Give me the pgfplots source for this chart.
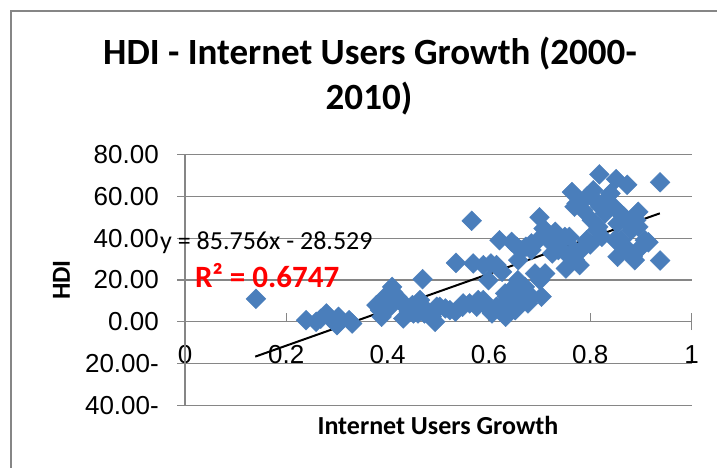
\documentclass[border=0pt]{standalone}
\usepackage{fontspec}
\setmainfont{Carlito}
\newfontfamily\arial{Liberation Sans}
\usepackage{pgfplots}
\pgfplotsset{compat=1.18}
\definecolor{gridgray}{RGB}{134,134,134}
\definecolor{bordergray}{RGB}{134,134,134}
\definecolor{markblue}{RGB}{74,126,187}
\begin{document}
\begin{tikzpicture}[x=1bp,y=1bp]
\useasboundingbox (0,0) rectangle (717,468);
\fill[white] (0,0) rectangle (717,468);
\draw[bordergray, line width=1.3bp] (11,-10) -- (11,457) -- (730,457);
% title
\node[anchor=base, inner sep=0pt, font=\bfseries\fontsize{37bp}{45bp}\selectfont] at (370,403) {HDI - Internet Users Growth (2000-};
\node[anchor=base, inner sep=0pt, font=\bfseries\fontsize{37bp}{45bp}\selectfont] at (369,358) {2010)};
\begin{axis}[
  at={(185bp,62.5bp)}, anchor=south west,
  scale only axis, width=506.5bp, height=251bp,
  xmin=0, xmax=1, ymin=-40, ymax=80,
  axis line style={draw=none},
  xtick={0,0.2,0.4,0.6,0.8,1},
  xticklabels={0,0.2,0.4,0.6,0.8,1},
  ytick={-40,-20,0,20,40,60,80},
  yticklabels={40.00-,20.00-,0.00,20.00,40.00,60.00,80.00},
  major tick length=0pt,
  ymajorgrids, grid style={gridgray, line width=1.3bp},
  tick label style={font=\arial\fontsize{26bp}{26bp}\selectfont, text=black},
  yticklabel style={anchor=east, inner sep=0pt, xshift=-26bp},
  xticklabel style={anchor=center, inner sep=0pt, yshift=50.5bp},
  clip=false,
]
\draw[gridgray, line width=1.3bp] (axis cs:0,-40) -- (axis cs:0,80);
\draw[gridgray, line width=1.3bp] (axis cs:0,0) -- (axis cs:1,0);
\draw[gridgray, line width=1.3bp] ([xshift=-8bp]axis cs:0,-40) -- (axis cs:0,-40);
\draw[gridgray, line width=1.3bp] ([xshift=-8bp]axis cs:0,-20) -- (axis cs:0,-20);
\draw[gridgray, line width=1.3bp] ([xshift=-8bp]axis cs:0,0) -- (axis cs:0,0);
\draw[gridgray, line width=1.3bp] ([xshift=-8bp]axis cs:0,20) -- (axis cs:0,20);
\draw[gridgray, line width=1.3bp] ([xshift=-8bp]axis cs:0,40) -- (axis cs:0,40);
\draw[gridgray, line width=1.3bp] ([xshift=-8bp]axis cs:0,60) -- (axis cs:0,60);
\draw[gridgray, line width=1.3bp] ([xshift=-8bp]axis cs:0,80) -- (axis cs:0,80);
\draw[gridgray, line width=1.3bp] (axis cs:0.2,0) -- (axis cs:0.2,4.3);
\draw[gridgray, line width=1.3bp] (axis cs:0.4,0) -- (axis cs:0.4,4.3);
\draw[gridgray, line width=1.3bp] (axis cs:0.6,0) -- (axis cs:0.6,4.3);
\draw[gridgray, line width=1.3bp] (axis cs:0.8,0) -- (axis cs:0.8,4.3);
\draw[gridgray, line width=1.3bp] (axis cs:1,-4) -- (axis cs:1,4.3);
\addplot[only marks, mark=square*, mark size=7bp, mark options={rotate=45, fill=markblue, draw=markblue}] table {
x y
0.140 11.0
0.239 0.8
0.259 0.0
0.268 1.5
0.279 4.0
0.290 0.8
0.300 -1.6
0.303 2.4
0.324 0.8
0.330 -0.8
0.378 8.0
0.385 5.6
0.388 2.4
0.395 12.0
0.398 10.4
0.405 7.2
0.409 16.7
0.411 14.0
0.419 12.0
0.424 10.0
0.429 8.8
0.431 1.6
0.438 7.2
0.442 4.8
0.449 8.0
0.451 4.0
0.460 4.0
0.464 10.4
0.469 20.4
0.473 4.0
0.477 5.6
0.487 2.4
0.494 0.0
0.497 7.2
0.503 7.2
0.514 6.4
0.523 5.6
0.534 4.8
0.535 28.2
0.548 7.2
0.549 8.8
0.562 8.8
0.566 48.3
0.569 27.9
0.576 7.2
0.579 10.4
0.589 10.4
0.589 27.1
0.596 7.2
0.599 19.9
0.602 5.6
0.604 27.9
0.606 4.0
0.615 27.1
0.615 7.2
0.621 39.0
0.623 7.2
0.626 23.9
0.628 4.0
0.632 13.6
0.633 2.4
0.636 12.0
0.642 7.2
0.645 38.2
0.645 10.4
0.650 16.7
0.652 5.6
0.655 10.4
0.655 35.9
0.657 19.9
0.658 29.5
0.663 13.5
0.663 34.3
0.671 16.7
0.673 35.9
0.677 8.8
0.684 12.0
0.684 34.3
0.684 37.5
0.691 23.1
0.697 39.0
0.700 50.0
0.701 19.9
0.704 12.0
0.708 44.6
0.711 23.1
0.718 39.0
0.724 40.6
0.725 32.7
0.731 43.0
0.737 34.3
0.742 39.0
0.750 40.6
0.752 32.7
0.752 25.5
0.759 40.6
0.764 62.0
0.769 34.3
0.769 55.0
0.770 29.5
0.773 56.6
0.779 27.1
0.782 34.3
0.786 53.4
0.793 39.0
0.794 60.0
0.800 37.0
0.803 48.6
0.806 62.9
0.813 43.8
0.816 56.6
0.816 45.4
0.818 70.5
0.820 55.0
0.823 40.6
0.829 51.8
0.830 58.2
0.840 61.4
0.847 55.0
0.849 39.1
0.851 68.2
0.854 47.0
0.854 31.1
0.859 51.8
0.861 39.0
0.867 50.2
0.869 35.9
0.873 65.5
0.875 47.0
0.881 43.8
0.884 31.1
0.888 29.5
0.891 48.6
0.895 52.6
0.895 45.4
0.901 35.9
0.908 39.0
0.915 38.0
0.938 66.7
0.938 29.3
};
\addplot[black, line width=2bp] coordinates {(0.1387,-16.634) (0.9374,51.859)};
\end{axis}
% axis titles
\node[anchor=base, inner sep=0pt, font=\bfseries\fontsize{26bp}{26bp}\selectfont] at (438,33) {Internet Users Growth};
\node[rotate=90, inner sep=0pt, font=\bfseries\fontsize{26bp}{26bp}\selectfont] at (61.5,188) {HDI};
% trendline label
\node[anchor=base west, inner sep=0pt, font=\fontsize{26bp}{26bp}\selectfont] at (160,218.7) {y = 85.756x - 28.529};
\node[anchor=base west, inner sep=0pt, text={rgb,255:red,255;green,0;blue,0}, font=\bfseries\fontsize{31bp}{31bp}\selectfont] at (194.8,180.3) {R² = 0.6747};
\end{tikzpicture}
\end{document}
